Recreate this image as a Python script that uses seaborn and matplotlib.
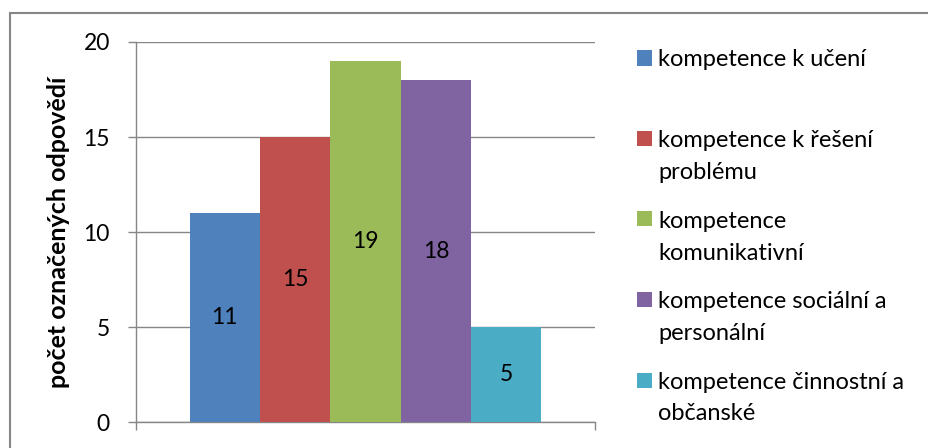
import matplotlib
matplotlib.use("Agg")
import matplotlib.pyplot as plt
from matplotlib.patches import Rectangle
import seaborn as sns
import pandas as pd

# Survey results: number of selected answers per key competence
kompetence = [
    "kompetence k učení",
    "kompetence k řešení problému",
    "kompetence komunikativní",
    "kompetence sociální a personální",
    "kompetence činnostní a občanské",
]
legend_labels = [
    "kompetence k učení",
    "kompetence k řešení\nproblému",
    "kompetence\nkomunikativní",
    "kompetence sociální a\npersonální",
    "kompetence činnostní a\nobčanské",
]
pocet = [11, 15, 19, 18, 5]
barvy = ["#4F81BD", "#C0504D", "#9BBB59", "#8064A2", "#4BACC6"]
y_ticks = [0, 5, 10, 15, 20]
y_label = "počet označených odpovědí"

sns.set_theme(style="white")
plt.rcParams["font.family"] = ["Lato", "DejaVu Sans"]

W, H = 929, 448
fig = plt.figure(figsize=(W / 100, H / 100), dpi=100)
ax = fig.add_axes([136 / W, 1 - 422 / H, (595 - 136) / W, (422 - 42) / H])

df = pd.DataFrame({"skupina": [""] * len(pocet), "kompetence": kompetence, "pocet": pocet})
sns.barplot(
    data=df, x="skupina", y="pocet", hue="kompetence", hue_order=kompetence,
    palette=barvy, width=352 / 459, gap=0, saturation=1, legend=False,
    linewidth=0, ax=ax, zorder=3,
)

grey = "#868686"
fs = 16.5
ax.set_xlim(-0.5, 0.5)
ax.set_ylim(0, 20)
ax.set_yticks(y_ticks)
ax.set_yticklabels([str(v) for v in y_ticks], fontsize=fs, color="black")
ax.set_xticks([-0.5, 0.5])
ax.set_xticklabels(["", ""])
ax.set_xlabel("")
ax.tick_params(axis="y", left=True, length=5.8, width=1, color=grey, pad=13, direction="out")
ax.tick_params(axis="x", bottom=True, length=5.8, width=1, color=grey, direction="out")
ax.grid(axis="y", color=grey, linewidth=1, zorder=0)
ax.set_axisbelow(True)
for side in ["top", "right"]:
    ax.spines[side].set_visible(False)
for side in ["left", "bottom"]:
    ax.spines[side].set_color(grey)
    ax.spines[side].set_linewidth(1)

ax.set_ylabel(y_label, fontsize=18, fontweight="bold", color="black")
ax.yaxis.label.set_verticalalignment("center")
ax.yaxis.set_label_coords((58 - 136) / 459, 0.5)

for cont in ax.containers:
    ax.bar_label(cont, fmt="{:.0f}", label_type="center", fontsize=fs, color="black")

# Legend on the right: square swatch next to the first line of each label
y0 = 58
step = 80.5
for i, (lab, col) in enumerate(zip(legend_labels, barvy)):
    yc = y0 + i * step
    fig.patches.append(Rectangle((637 / W, 1 - (yc + 7.5) / H), 15 / W, 15 / H,
                                 transform=fig.transFigure, facecolor=col,
                                 edgecolor="none"))
    for j, line in enumerate(lab.split("\n")):
        fig.text(658 / W, 1 - (yc + j * 32) / H, line, fontsize=17,
                 ha="left", va="center_baseline", color="black")

# Chart frame
fig.patches.append(Rectangle((10 / W, -0.2), 1.0, 1.2 - 13 / H,
                             transform=fig.transFigure, facecolor="none",
                             edgecolor=grey, linewidth=1.5))

fig.savefig("out.png", dpi=100)
